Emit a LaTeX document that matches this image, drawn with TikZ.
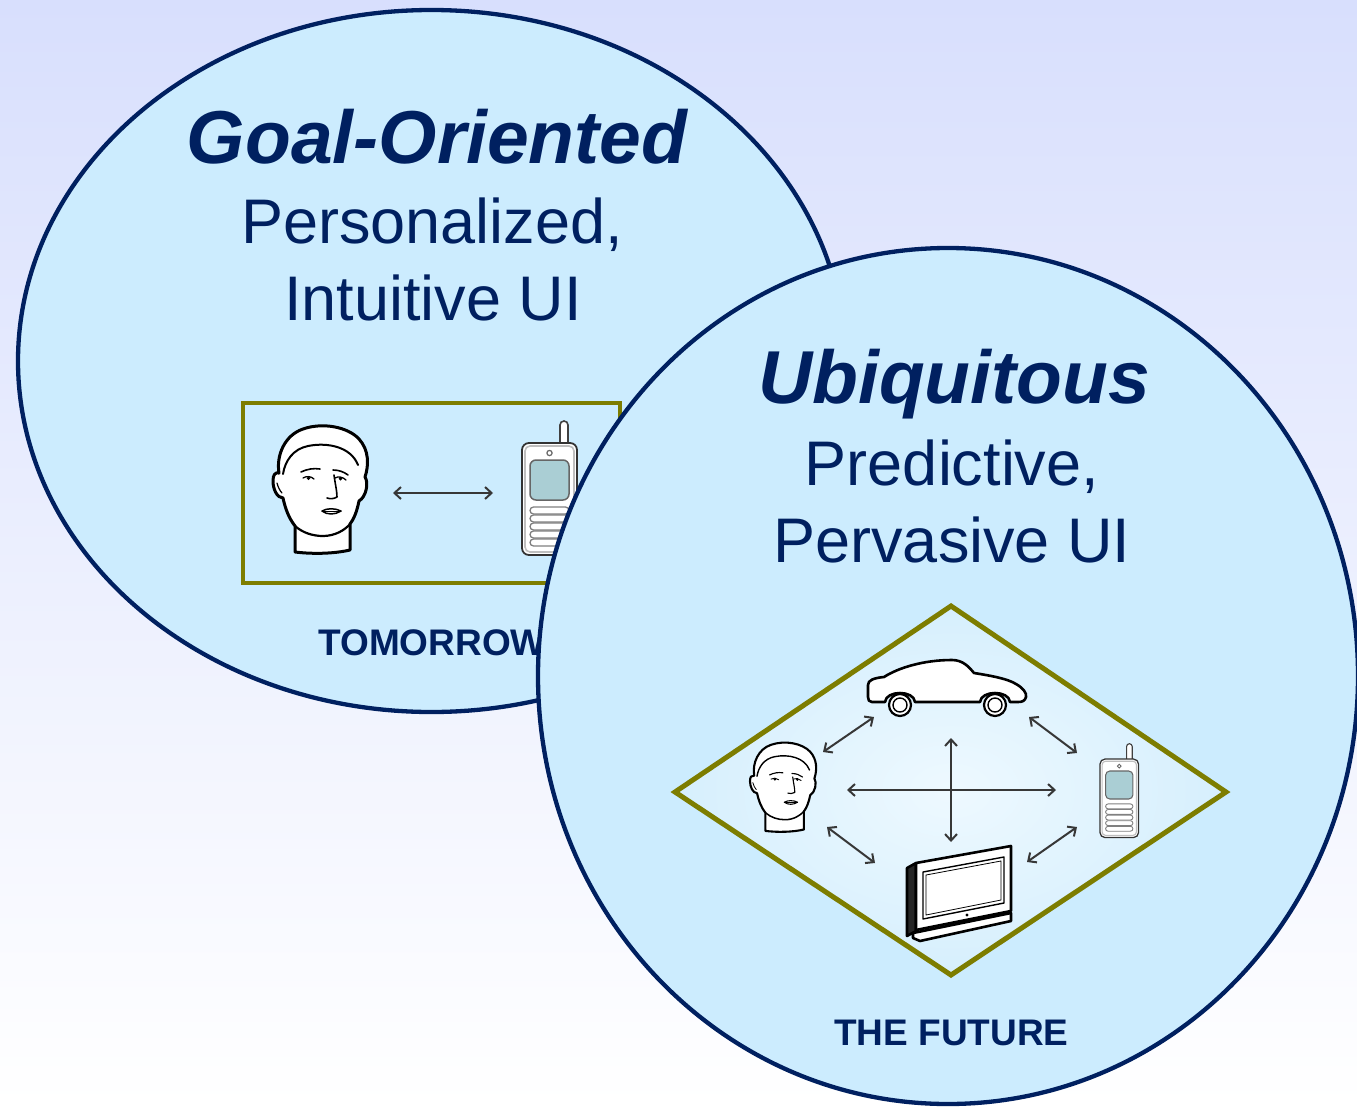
\documentclass[tikz,border=0pt]{standalone}
\usepackage{fontspec}
\setmainfont{Liberation Sans}
\usetikzlibrary{arrows.meta}

\definecolor{navy}{RGB}{0,32,96}
\definecolor{bubblefill}{RGB}{204,236,254}
\definecolor{frameolive}{RGB}{125,125,0}
\definecolor{bgtop}{RGB}{216,223,253}
\definecolor{linkgray}{RGB}{55,55,55}
\definecolor{screenblue}{RGB}{170,206,212}
\definecolor{diainner}{RGB}{238,249,255}
\definecolor{diaouter}{RGB}{214,239,253}

% head-and-shoulders icon, origin at its top-left corner
\newcommand{\faceicon}[3]{%
\begin{scope}[shift={(#1,#2)},scale=#3,line cap=round,line join=round]
  \filldraw[line width=#3*3pt, fill=white, draw=black]
    (22,127) -- (22,101)
    .. controls (15,92) and (12,82) .. (10,73)
    .. controls (4,73) and (0,64) .. (0,56)
    .. controls (0,50) and (2,47) .. (6,48)
    .. controls (3,30) and (12,10) .. (30,4)
    .. controls (50,-3) and (75,2) .. (86,14)
    .. controls (96,25) and (96,40) .. (92,52)
    .. controls (96,58) and (93,72) .. (86,76)
    .. controls (84,86) and (81,94) .. (77,99)
    -- (77,125)
    .. controls (60,129) and (38,129) .. (22,127) -- cycle;
  \draw[line width=#3*2.2pt] (22,101) .. controls (30,108) and (40,111) .. (50,111)
    .. controls (62,111) and (72,105) .. (77,99);
  \draw[line width=#3*2pt] (10,49) .. controls (12,36) and (20,24) .. (35,21)
    .. controls (55,17) and (78,22) .. (85,40);
  \draw[line width=#3*1.2pt] (4,58) .. controls (5,62) and (7,66) .. (9,68);
  \draw[line width=#3*1.6pt] (28,47) .. controls (34,44) and (41,43) .. (47,44);
  \draw[line width=#3*1.6pt] (60,45) .. controls (66,45) and (71,47) .. (75,50);
  \draw[line width=#3*1.3pt] (30,53) .. controls (33,51) and (38,51) .. (41,54);
  \draw[line width=#3*1.3pt] (62,53) .. controls (65,51) and (70,52) .. (73,55);
  \fill (35.5,53.3) circle[radius=1.9];
  \fill (67.5,53.8) circle[radius=1.9];
  \draw[line width=#3*1.6pt] (61,50) .. controls (62,58) and (64,66) .. (64,72)
    .. controls (61,74) and (57,74) .. (54,73);
  \draw[line width=#3*1.5pt] (49,86) .. controls (54,83) and (62,83) .. (68,86)
    .. controls (62,90) and (54,90) .. (49,86) -- cycle;
  \draw[line width=#3*1pt] (49,86) -- (68,86);
\end{scope}}

% mobile handset icon, origin at the top-left corner
\newcommand{\phoneicon}[3]{%
\begin{scope}[shift={(#1,#2)},scale=#3]
  \filldraw[line width=#3*1.6pt, draw=black!75, fill=white, rounded corners=#3*4pt]
    (40,1) rectangle (48,27);
  \filldraw[line width=#3*1.8pt, draw=black!80, fill=white, rounded corners=#3*7pt]
    (2,23) rectangle (57,135);
  \draw[line width=#3*1.6pt, draw=black!25, rounded corners=#3*5pt]
    (5,26) rectangle (54,132);
  \draw[line width=#3*1.2pt, draw=black!60] (29.5,33) circle[radius=2.6];
  \filldraw[line width=#3*1.5pt, draw=black!60, fill=screenblue, rounded corners=#3*6pt]
    (10,40) rectangle (49,80);
  \foreach \k in {0,...,4}
    \filldraw[line width=#3*1.3pt, draw=black!50, fill=white, rounded corners=#3*3.5pt]
      (10,87+8*\k) rectangle (49,94+8*\k);
\end{scope}}

\tikzset{
  bubble/.style={fill=bubblefill, draw=navy, line width=4.3pt},
  panelframe/.style={draw=frameolive, line width=4.5pt, line join=miter},
  link/.style={draw=linkgray, line width=2pt,
    {Straight Barb[length=6.5pt,width=12pt]}-{Straight Barb[length=6.5pt,width=12pt]}},
  iconline/.style={draw=black, line width=2.6pt, line join=round},
  thinicon/.style={draw=black, line width=1.4pt, line join=round},
  headline/.style={font=\fontsize{75}{80}\selectfont\bfseries\itshape,
    text=navy, inner sep=0pt, anchor=base},
  subline/.style={font=\fontsize{63}{70}\selectfont,
    text=navy, inner sep=0pt, anchor=base},
  era/.style={font=\fontsize{37}{40}\selectfont\bfseries,
    text=navy, inner sep=0pt, anchor=base},
}

\begin{document}
\begin{tikzpicture}[x=1pt,y=-1pt]
  \useasboundingbox (0,0) rectangle (1357,1108);
  \shade[top color=bgtop, bottom color=white] (0,0) rectangle (1357,1108);

  % ---- left bubble: tomorrow ----
  \draw[bubble] (431.5,361) ellipse [x radius=413.5, y radius=351];

  \node[headline] (goal) at (437,163) {Goal-Oriented};
  \node[subline] (pers) at (432,243) {Personalized,};
  \node[subline] (intu) at (433,320) {Intuitive UI};

  \filldraw[panelframe, fill=bubblefill] (243,403) rectangle (620,583);
  \faceicon{273}{425}{1}
  \phoneicon{520}{420}{1}
  \coordinate (pairL) at (393,493);
  \coordinate (pairR) at (493,493);
  \draw[link] (pairL) -- (pairR);

  \node[era] (tomorrow) at (432,655) {TOMORROW};

  % ---- right bubble: the future ----
  \draw[bubble] (948,676) ellipse [x radius=410, y radius=428];

  \node[headline] (ubiq) at (954,403) {Ubiquitous};
  \node[subline] (pred) at (952,485) {Predictive,};
  \node[subline] (perv) at (952,562) {Pervasive UI};

  \coordinate (dT) at (951,606);
  \coordinate (dR) at (1226,792);
  \coordinate (dB) at (951,975);
  \coordinate (dL) at (675,792);
  \shade[inner color=diainner, outer color=diaouter] (dT) -- (dR) -- (dB) -- (dL) -- cycle;
  \draw[panelframe, line width=5pt] (dT) -- (dR) -- (dB) -- (dL) -- cycle;

  % car
  \begin{scope}[shift={(868,660)}]
    \filldraw[iconline, fill=white]
      (4,42) .. controls (1,42) and (0,40) .. (0,37) -- (0,25)
      .. controls (0,20) and (6,18) .. (16,17)
      .. controls (30,8) and (55,0) .. (84,0)
      .. controls (95,0) and (101,7) .. (106,13)
      .. controls (125,16) and (140,19) .. (148,24)
      .. controls (155,28) and (159,33) .. (158,37)
      .. controls (157,41) and (154,42) .. (150,42) -- (142,42)
      .. controls (141,30) and (113,30) .. (112,42) -- (47,42)
      .. controls (46,30) and (18,30) .. (17,42) -- cycle;
    \foreach \cx in {32,127} {
      \filldraw[iconline, line width=2.2pt, fill=white] (\cx,45) circle[radius=11];
      \draw[thinicon] (\cx,45) circle[radius=7];
    }
  \end{scope}

  % flat-screen television
  \begin{scope}[shift={(905,845)}]
    \filldraw[iconline, fill=white] (8,88) -- (106,68) -- (106,76) -- (15,96) -- (8,93) -- cycle;
    \filldraw[iconline, fill=black!85] (2,23) -- (11,18) -- (11,86) -- (2,91) -- cycle;
    \filldraw[iconline, fill=white] (11,18) -- (106,1) -- (106,66) -- (11,85) -- cycle;
    \draw[thinicon, fill=white] (18,27) -- (99,12) -- (99,58) -- (18,74) -- cycle;
    \draw[line width=0.8pt] (21,30) -- (96,16) -- (96,55) -- (21,70) -- cycle;
    \fill (62,70) circle[radius=1.6];
  \end{scope}

  \faceicon{750}{742}{0.7}
  \phoneicon{1098.6}{743}{0.7}

  \coordinate (fcA) at (823,752);  \coordinate (fcB) at (874,717);
  \coordinate (cpA) at (1029,717); \coordinate (cpB) at (1077,753);
  \coordinate (hzA) at (847,790);  \coordinate (hzB) at (1056,790);
  \coordinate (vtA) at (951,738);  \coordinate (vtB) at (951,842);
  \coordinate (ftA) at (827,827);  \coordinate (ftB) at (875,863);
  \coordinate (ptA) at (1077,827); \coordinate (ptB) at (1027,862);
  \draw[link] (fcA) -- (fcB);
  \draw[link] (cpA) -- (cpB);
  \draw[link] (hzA) -- (hzB);
  \draw[link] (vtA) -- (vtB);
  \draw[link] (ftA) -- (ftB);
  \draw[link] (ptA) -- (ptB);

  \node[era] (future) at (951.5,1045) {THE FUTURE};
\end{tikzpicture}
\end{document}
